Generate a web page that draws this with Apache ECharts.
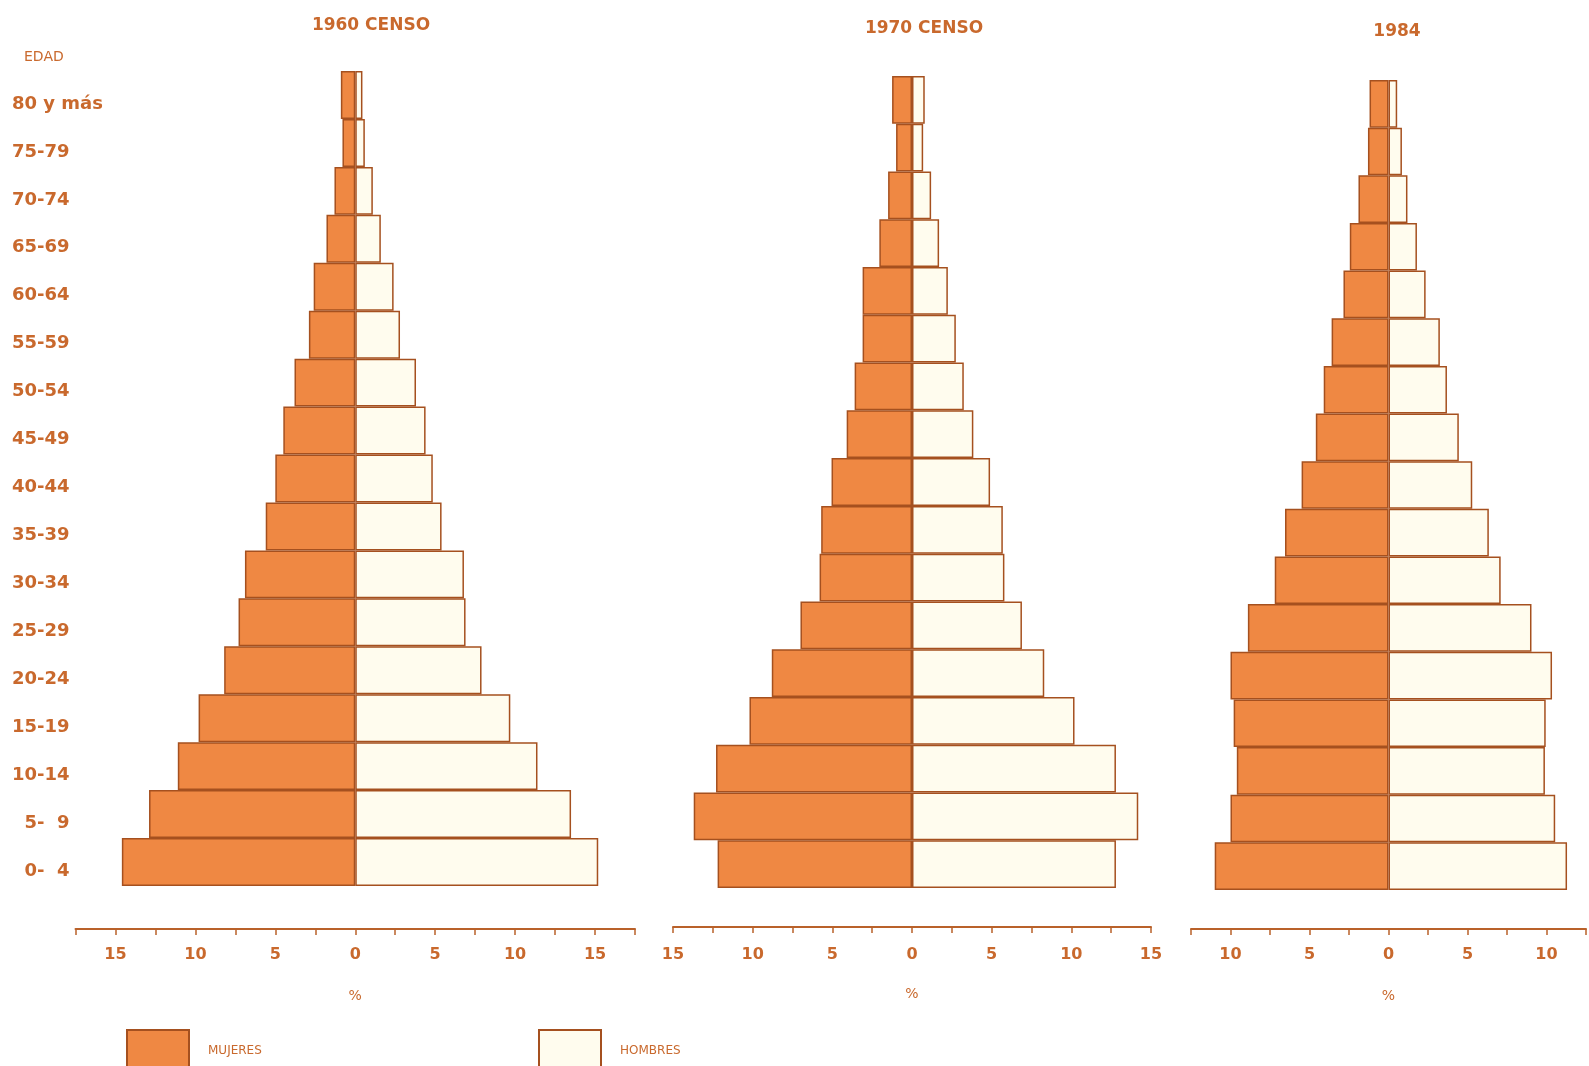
<!DOCTYPE html>
<html>
<head>
<meta charset="utf-8">
<script src="https://cdn.jsdelivr.net/npm/echarts@6/dist/echarts.min.js"></script>
<style>
html,body{margin:0;padding:0;background:#ffffff;}
#chart{width:1589px;height:1066px;}
</style>
</head>
<body>
<div id="chart"></div>
<script>
// Age groups, youngest first (bottom of the pyramid)
const ages = ['0- 4','5- 9','10-14','15-19','20-24','25-29','30-34','35-39','40-44','45-49','50-54','55-59','60-64','65-69','70-74','75-79','80 y más'];
const panelTitles = ['1960 CENSO', '1970 CENSO', '1984'];
const legendNames = ['MUJERES', 'HOMBRES'];
const axisName = '%';
const rowTitle = 'EDAD';

// Percent of total population
const mujeres1960 = [14.6,12.9,11.1,9.8,8.2,7.3,6.9,5.6,5.0,4.5,3.8,2.9,2.6,1.8,1.3,0.8,0.9];
const hombres1960 = [15.2,13.5,11.4,9.7,7.9,6.9,6.8,5.4,4.85,4.4,3.8,2.8,2.4,1.6,1.1,0.6,0.45];
const mujeres1970 = [12.2,13.7,12.3,10.2,8.8,7.0,5.8,5.7,5.05,4.1,3.6,3.1,3.1,2.05,1.5,1.0,1.25];
const hombres1970 = [12.8,14.2,12.8,10.2,8.3,6.9,5.8,5.7,4.9,3.85,3.25,2.75,2.25,1.7,1.2,0.7,0.8];
const mujeres1984 = [11.0,10.0,9.6,9.8,10.0,8.9,7.2,6.55,5.5,4.6,4.1,3.6,2.85,2.45,1.9,1.3,1.2];
const hombres1984 = [11.3,10.55,9.9,9.95,10.35,9.05,7.1,6.35,5.3,4.45,3.7,3.25,2.35,1.8,1.2,0.85,0.55];

// Axis extents per panel
const axisMin = [-17.5, -15, -12.5];
const axisMax = [17.5, 15, 12.5];

const TXT = '#C9692D';
const FEM = '#EF8843';
const MAS = '#FFFCEE';
const EDGE = '#A5501F';
const AXC = '#B9612A';
const FONT = '"DejaVu Sans", sans-serif';

const grids = [
  {left: 75.5, width: 559.5, top: 71, height: 815},
  {left: 673, width: 478, top: 76, height: 812},
  {left: 1191, width: 398, top: 80, height: 810},
  // label-only grid for the age column (text sits a little below the bar centres)
  {left: 75.5, width: 559.5, top: 80, height: 815}
];
const offsets = [43, 39, 39];
const labelMargins = [18, 20, 18];

const femData = [mujeres1960, mujeres1970, mujeres1984];
const masData = [hombres1960, hombres1970, hombres1984];

const xAxes = offsets.map((off, i) => ({
  type: 'value', gridIndex: i, min: axisMin[i], max: axisMax[i], interval: 2.5,
  position: 'bottom', offset: off,
  name: axisName, nameLocation: 'middle', nameGap: 60,
  nameTextStyle: {color: TXT, fontSize: 14, fontFamily: FONT},
  axisLine: {show: true, onZero: false, lineStyle: {color: AXC, width: 2}},
  axisTick: {show: true, length: 6, lineStyle: {color: AXC, width: 1.5}},
  splitLine: {show: false},
  axisLabel: {
    show: true, margin: labelMargins[i], color: TXT, fontSize: 16, fontWeight: 'bold', fontFamily: FONT,
    showMinLabel: true, showMaxLabel: true,
    formatter: v => (Math.abs(v) % 5 === 0) ? String(Math.abs(v)) : ''
  }
}));
xAxes.push({type: 'value', gridIndex: 3, min: 0, max: 1, show: false});

const yAxes = [0, 1, 2].map(i => ({
  type: 'category', gridIndex: i, data: ages,
  axisLine: {show: false, onZero: false},
  axisTick: {show: false},
  splitLine: {show: false},
  axisLabel: {show: false}
}));
yAxes.push({
  type: 'category', gridIndex: 3, data: ages,
  axisLine: {show: false, onZero: false},
  axisTick: {show: false},
  splitLine: {show: false},
  axisLabel: {
    show: true, align: 'left', margin: 63.5, color: TXT, fontSize: 18, fontWeight: 'bold',
    fontFamily: FONT,
    formatter: v => /^\d-/.test(v) ? '\u2007' + v.replace('- ', '-\u2007') : v
  }
});

const series = [];
[0, 1, 2].forEach(i => {
  series.push({
    name: legendNames[0], type: 'bar', xAxisIndex: i, yAxisIndex: i,
    data: femData[i].map(v => -v),
    barGap: '-100%', barCategoryGap: 0,
    itemStyle: {color: FEM, borderColor: EDGE, borderWidth: 1.5},
    emphasis: {disabled: true}, animation: false
  });
  series.push({
    name: legendNames[1], type: 'bar', xAxisIndex: i, yAxisIndex: i,
    data: masData[i],
    barGap: '-100%', barCategoryGap: 0,
    itemStyle: {color: MAS, borderColor: EDGE, borderWidth: 1.5},
    emphasis: {disabled: true}, animation: false
  });
});

const titleCenters = [366, 919, 1392];
const titleTops = [12, 15, 18];
const titles = panelTitles.map((t, i) => ({
  text: t, left: titleCenters[i], top: titleTops[i], textAlign: 'center',
  textStyle: {color: TXT, fontSize: 17, fontWeight: 'bold', fontFamily: FONT}
}));
titles.push({
  text: rowTitle, left: 19, top: 45,
  textStyle: {color: TXT, fontSize: 14, fontWeight: 'normal', fontFamily: FONT}
});

const legendLefts = [126, 538];
const legends = legendNames.map((n, i) => ({
  data: [n], left: legendLefts[i], top: 1029, orient: 'horizontal', padding: 0,
  itemWidth: 62, itemHeight: 42, icon: 'rect', selectedMode: false,
  textStyle: {color: TXT, fontSize: 12, fontFamily: FONT, padding: [0, 0, 0, 14]}
}));

const chart = echarts.init(document.getElementById('chart'), null, {renderer: 'canvas'});
chart.setOption({
  backgroundColor: '#ffffff',
  animation: false,
  title: titles,
  legend: legends,
  grid: grids,
  xAxis: xAxes,
  yAxis: yAxes,
  series: series
});
</script>
</body>
</html>
